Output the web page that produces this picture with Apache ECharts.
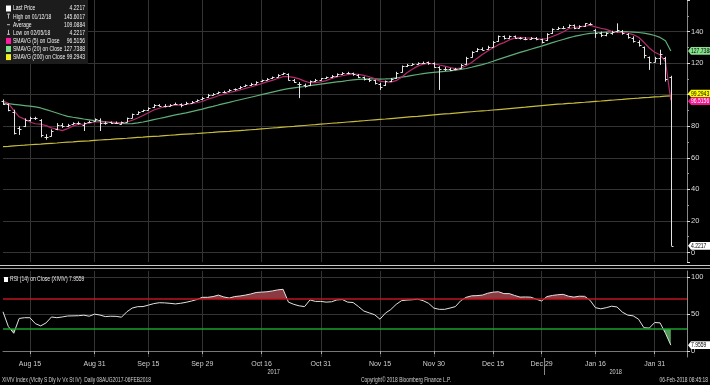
<!DOCTYPE html>
<html><head><meta charset="utf-8">
<script src="https://cdn.jsdelivr.net/npm/echarts@6/dist/echarts.min.js"></script>
<style>html,body{margin:0;padding:0;background:#000;}#c{width:710px;height:385px;}</style>
</head><body><div id="c"></div>
<script>
const dates = ['2017-08-08','2017-08-09','2017-08-10','2017-08-11','2017-08-14','2017-08-15','2017-08-16','2017-08-17','2017-08-18','2017-08-21','2017-08-22','2017-08-23','2017-08-24','2017-08-25','2017-08-28','2017-08-29','2017-08-30','2017-08-31',
'2017-09-01','2017-09-05','2017-09-06','2017-09-07','2017-09-08','2017-09-11','2017-09-12','2017-09-13','2017-09-14','2017-09-15','2017-09-18','2017-09-19','2017-09-20','2017-09-21','2017-09-22','2017-09-25','2017-09-26','2017-09-27','2017-09-28','2017-09-29',
'2017-10-02','2017-10-03','2017-10-04','2017-10-05','2017-10-06','2017-10-09','2017-10-10','2017-10-11','2017-10-12','2017-10-13','2017-10-16','2017-10-17','2017-10-18','2017-10-19','2017-10-20','2017-10-23','2017-10-24','2017-10-25','2017-10-26','2017-10-27','2017-10-30','2017-10-31',
'2017-11-01','2017-11-02','2017-11-03','2017-11-06','2017-11-07','2017-11-08','2017-11-09','2017-11-10','2017-11-13','2017-11-14','2017-11-15','2017-11-16','2017-11-17','2017-11-20','2017-11-21','2017-11-22','2017-11-24','2017-11-27','2017-11-28','2017-11-29','2017-11-30',
'2017-12-01','2017-12-04','2017-12-05','2017-12-06','2017-12-07','2017-12-08','2017-12-11','2017-12-12','2017-12-13','2017-12-14','2017-12-15','2017-12-18','2017-12-19','2017-12-20','2017-12-21','2017-12-22','2017-12-26','2017-12-27','2017-12-28','2017-12-29',
'2018-01-02','2018-01-03','2018-01-04','2018-01-05','2018-01-08','2018-01-09','2018-01-10','2018-01-11','2018-01-12','2018-01-16','2018-01-17','2018-01-18','2018-01-19','2018-01-22','2018-01-23','2018-01-24','2018-01-25','2018-01-26','2018-01-29','2018-01-30','2018-01-31',
'2018-02-01','2018-02-02','2018-02-05','2018-02-06','2018-02-07','2018-02-08'];

const labelDates = ['2017-08-15','2017-08-31','2017-09-15','2017-09-29','2017-10-16','2017-10-31','2017-11-15','2017-11-30','2017-12-15','2017-12-29','2018-01-16','2018-01-31'];
const yearLabels = ['2017','2018'];

const open = [96,94,89,79,80,84,85.5,84,73,74, 78,81,80,81.5,82,81,82.5,83.5,84,82, 82.5,82,81.5,83,85.5,88,89.5,90.5,92,93.5, 93,93,94,94,94,95,96,97,98.5,100, 101,101.5,102.5,103.5,104,105.5,106,107,108.5,109.5, 110.5,111.5,113,113,109.5,107,106,106,108.5,109.5, 110.5,111,112,113,114,113.5,112.5,111,110,109, 107,106,108.5,110.5,114.5,118,119,119.5,120,120.5, 120,117.5,116,116.5,116,117,119.5,124,127.5,129, 129,130.5,134,137,136,137,136,135.5,135,136, 135,134.5,139,141.5,142.5,143,144,142.5,143.5,145, 141,139,138,139,140.5,140.5,138.5,136,133.5,130, 124,121,123,123,111.5];
const high = [97,94.5,90.5,80,85,86,86,84.5,75,78, 82,82,81.5,82.5,83,82.5,83.5,85,85,83, 83,83,83,85.5,88,89.5,90.5,92,94,94, 94,94,95,94.5,95.5,96,97,98.5,100.5,101, 102,102.5,103.5,104,105.5,106.5,107.5,108.5,109.5,110.5, 111.5,113,114,113.5,110,108,107,109,110,110.5, 111.5,112.5,113.5,114.3,114.5,114,113,111.5,110.5,109.5, 107.5,109,110.5,114.5,118.5,119.5,120,120.5,121,121, 120.5,118,117.5,117,117,119.5,124,127.5,129.5,130, 131,134,137.5,137.5,137.5,137.5,136.5,136.5,136.5,136.5, 135.5,139,142,143,143.5,144.5,144.5,144,145.3,145.6017, 141.5,140,139.5,140.5,145.2,141,139,137,134.5,130.5, 124.2,124,128.5,124,112];
const low = [93.5,89.5,74.8,74.5,79.5,83,84,73,71.5,73.5, 77.5,79,79.5,81,81,77,82,83,77,81, 81.5,81.5,81,82.5,85,87.5,89,90,91.5,92.5, 92,92.5,93.5,92,93.5,94.5,95.5,96.5,98,99.5, 100.5,101,102,102.5,103.5,105,105.5,106.5,108,109, 110,111,112.5,109,107.5,97.8,104.5,105.5,108,109, 110,110.5,111.5,112.5,113,112,110.5,109,108,106.5, 103,105.5,108,110,114,117.5,118.5,119,119.5,119, 117,103,115,115,115.5,116.5,119,123.5,127,128, 128.5,130,133.5,135,135.5,135.5,135,134.5,134.8,134.5, 132.5,134,138.5,141,141.5,142.5,141.5,142,143,144, 136,136.5,137,138,139.5,138,135.5,133,130.5,123, 115.7,120.5,118.9,108.3,4.2217];
const close = [94,90.5,76,78,84,85,85,74.5,73.5,77, 81,80,81,82,82,82,83,84.5,82,82, 82,82,82.5,85,87.5,89,90,91.5,93.5,93, 93,93.5,94,93.5,95,95.5,96.5,98,100,100.5, 101.5,102,103,103.5,105,106,106.8,108,109.3,110.2, 111.3,112.5,113.6,109.5,108,106.5,105.5,108.5,109.5,110.3, 111,112,113,113.8,113.5,113,111,110,109.3,107.5, 105,108.5,110,114,118,119,119.5,120,120.3,120, 117.8,116,116.5,115.8,116.5,119,123.5,127,129,128.6, 130.3,133.5,136.9,135.8,136.9,136,135.8,135.1,135.8,135.1, 133.6,138.5,141.5,142.5,142.5,144,142.5,143.5,145.2,144.8, 139,137.9,139,140,141,138.9,136.5,134,131.5,125, 121,123,126,110,4.2217];

const sma5 = [96,94.5,90,86,84.5, 82.7,81.6,81.3,80.4,79, 78.2,77.2,78.5,80.2,81.2, 81.4,82,82.7,82.7,82.7, 82.7,82.5,82.1,82.7,83.8, 85.2,86.8,88.6,90.3,91.4, 92.2,92.9,93.4,93.4,93.8, 94.3,94.9,95.7,97.1,98.1, 99.3,100.4,101.4,102.1,103, 104,104.9,105.9,107,108.1, 109.1,110.3,111.4,111.4,111, 110,108.6,107.6,107.6,108.1, 108.9,110.3,111.2,112,112.7, 113.1,112.9,112.3,111.4,110.2, 108.6,108.1,108,108.9,111.1, 113.9,116.1,118.1,119.4,119.8, 119.5,118.8,118.1,117.2,116.5, 116.8,118.3,120.4,123,125.4, 127.7,129.7,131.7,133,134.7, 135.8,136.3,136,135.9,135.6, 135.1,135.6,136.9,138.2,139.7, 141.8,142.6,143,143.5,144, 143,142.1,141.4,140.1,139.4, 139.4,139.1,138.1,136.4,133.2, 129.6,126.9,125.3,121,96.5156];
const sma20 = [94.6,94.3,93.9,93.5,93.1,92.7,92.3,91.6,90.5,89.5, 88.4,87.3,86.3,85.7,85.2,84.6,84.1,83.6,83.2,82.8, 82.4,82.1,81.8,81.6,81.7,82.1,82.7,83.4,84.2,84.9, 85.6,86.4,87.2,87.8,88.5,89.3,90.1,90.9,91.8,92.6, 93.5,94.3,95.1,96,96.8,97.6,98.4,99.2,100,100.8, 101.6,102.4,103.2,103.8,104.3,104.8,105.2,105.7,106.2,106.7, 107.2,107.7,108.1,108.5,109,109.4,109.7,109.9,110,110, 109.9,110,110.2,110.6,111.1,111.6,112.2,112.8,113.3,113.8, 114.2,114.5,114.8,115.1,115.5,116,116.6,117.4,118.3,119.1, 120.1,121.2,122.4,123.5,124.6,125.7,126.8,127.8,128.8,129.8, 130.8,131.9,133,134,135,136,136.9,137.6,138.3,138.8, 139.1,139.4,139.6,139.8,140,140,139.9,139.7,139.4,139, 138.4,137.5,136.3,134.2,127.7388];
const sma200 = [67.1,67.3,67.6,67.8,68,68.3,68.5,68.7,69,69.2, 69.4,69.7,69.9,70.1,70.4,70.6,70.8,71.1,71.3,71.5, 71.7,72,72.2,72.4,72.7,72.9,73.1,73.4,73.6,73.8, 74.1,74.3,74.5,74.8,75,75.2,75.4,75.7,75.9,76.1, 76.4,76.6,76.8,77.1,77.3,77.5,77.8,78,78.3,78.6, 78.9,79.1,79.4,79.7,79.9,80.2,80.5,80.8,81,81.3, 81.6,81.9,82.1,82.4,82.7,83,83.2,83.5,83.8,84.1, 84.4,84.6,84.9,85.2,85.5,85.8,86.1,86.3,86.6,86.9, 87.2,87.5,87.8,88,88.3,88.6,88.9,89.2,89.5,89.8, 90,90.3,90.6,90.9,91.2,91.5,91.8,92.1,92.5,92.8, 93.1,93.4,93.7,94,94.2,94.5,94.7,95,95.2,95.5, 95.8,96,96.3,96.5,96.8,97,97.3,97.6,97.8,98.1, 98.3,98.6,98.8,99.1,99.2943];
const rsi = [53,33,24,44,45,45,37,34,38,46, 45,46,47.3,47.5,47.7,48.4,47,49.8,48.6,46.5, 47,46.8,45.7,53,58,59.9,60,62,64,65.2, 65,64.4,63.6,64.5,65.8,67.5,69.5,72.5,72.5,73.5, 75.5,73,71.5,73.5,74.3,75.5,77,79,79.5,80, 81.1,82.5,83.3,66,63,61,60,69,67,67, 66,66.5,69,69.5,66,65.5,60,54,51.5,49, 43,51.2,56,63,68,68.8,69.2,70,68,64.5, 58,56.3,56.3,58,60,68,72.5,74.5,74.8,75.5, 78,79.5,80,77.5,77.5,75,72.8,73,72.7,70, 67.5,73.5,75,76,76.5,74,72.8,74,73.8,68.5, 58.5,57,58.5,60.5,59.5,52.5,48.5,47.5,43,31.5, 31,38.5,38,24,7.9559];

const legendLabels = ['Last Price','High on 01/12/18','Average','Low on 02/05/18','SMAVG (5) on Close','SMAVG (20) on Close','SMAVG (200) on Close'];
const legendValues = ['4.2217','145.6017','109.0884','4.2217','96.5156','127.7388','99.2943'];
const rsiLegend = 'RSI (14) on Close (XIVIV) 7.9559';
const rsiLast = 7.9559;
const footerLeft = 'XIVIV Index (Vlcity S Dly Iv Vx St IV)  Daily 08AUG2017-06FEB2018';
const footerMid = 'Copyright\u00A9 2018 Bloomberg Finance L.P.';
const footerRight = '06-Feb-2018 08:45:18';

const months = ['Jan','Feb','Mar','Apr','May','Jun','Jul','Aug','Sep','Oct','Nov','Dec'];
const FONT = '"Liberation Sans Narrow","Liberation Sans",Arial,sans-serif';
const SQ = 0.7; // horizontal squeeze to mimic the narrow terminal font
const labelSet = new Set(labelDates.map(d => dates.indexOf(d)));
const showIdx = (i) => labelSet.has(i);
const fmtDate = v => months[+v.slice(5,7)-1] + ' ' + (+v.slice(8));

const chart = echarts.init(document.getElementById('c'), null, {renderer: 'canvas'});
const ohlcData = close.map((c, i) => [i, open[i], high[i], low[i], c]);

const gridCol = '#343434';
chart.setOption({
  backgroundColor: '#000',
  animation: false,
  grid: [
    {left: 3, right: 23, top: 0, height: 262},
    {left: 3, right: 23, top: 271, height: 86}
  ],
  xAxis: [
    {type: 'category', gridIndex: 0, data: dates, boundaryGap: false,
     axisLine: {show: false}, axisTick: {show: false}, axisLabel: {show: false},
     splitLine: {show: true, interval: showIdx, lineStyle: {color: gridCol, width: 1}}},
    {type: 'category', gridIndex: 1, data: dates, boundaryGap: false,
     axisLine: {show: true, lineStyle: {color: '#777'}},
     axisTick: {show: true, interval: showIdx, length: 3, lineStyle: {color: '#aaa'}},
     axisLabel: {show: true, interval: showIdx, formatter: fmtDate, color: '#cfcfcf', fontSize: 7, fontFamily: FONT, margin: 4},
     splitLine: {show: true, interval: showIdx, lineStyle: {color: gridCol, width: 1}}}
  ],
  yAxis: [
    {type: 'value', gridIndex: 0, position: 'right', min: -6, max: 160, splitNumber: 8,
     axisLine: {show: true, lineStyle: {color: '#8a8a8a'}},
     axisTick: {show: true, length: 3, lineStyle: {color: '#ddd'}},
     minorTick: {show: true, splitNumber: 2, length: 2, lineStyle: {color: '#999'}},
     axisLabel: {color: '#dcdcdc', fontSize: 7.5, fontFamily: FONT, margin: 4, showMinLabel: false, showMaxLabel: false},
     splitLine: {show: true, showMinLine: false, showMaxLine: false, lineStyle: {color: gridCol}}},
    {type: 'value', gridIndex: 1, position: 'right', min: -8, max: 108, splitNumber: 2,
     axisLine: {show: true, lineStyle: {color: '#8a8a8a'}},
     axisTick: {show: true, length: 3, lineStyle: {color: '#ddd'}},
     axisLabel: {color: '#dcdcdc', fontSize: 7.5, fontFamily: FONT, margin: 4, showMinLabel: false, showMaxLabel: false},
     splitLine: {show: true, showMinLine: false, showMaxLine: false, lineStyle: {color: gridCol}}}
  ],
  visualMap: [{
    type: 'piecewise', show: false, seriesIndex: 4, dimension: 1,
    pieces: [
      {gt: 70, color: '#8a3a40'},
      {gte: 30, lte: 70, color: 'rgba(0,0,0,0)'},
      {lt: 30, color: '#4e9a52'}
    ]
  }],
  series: [
    {name: 'SMAVG (200)', type: 'line', xAxisIndex: 0, yAxisIndex: 0, data: sma200, symbol: 'none', silent: true, z: 2,
     lineStyle: {color: '#c8bd3a', width: 1.2}},
    {name: 'SMAVG (20)', type: 'line', xAxisIndex: 0, yAxisIndex: 0, data: sma20, symbol: 'none', silent: true, z: 2,
     lineStyle: {color: '#5fae78', width: 1.2}},
    {name: 'SMAVG (5)', type: 'line', xAxisIndex: 0, yAxisIndex: 0, data: sma5, symbol: 'none', silent: true, z: 2,
     lineStyle: {color: '#b52a6c', width: 1.2}},
    {name: 'Price', type: 'custom', xAxisIndex: 0, yAxisIndex: 0, data: ohlcData, z: 3, silent: true,
     encode: {x: 0, y: [1, 2, 3, 4]},
     renderItem: function (params, api) {
       const i = api.value(0);
       const o = api.coord([i, api.value(1)]);
       const h = api.coord([i, api.value(2)]);
       const l = api.coord([i, api.value(3)]);
       const c = api.coord([i, api.value(4)]);
       const x = Math.round(o[0]) + 0.5;
       const st = {stroke: '#e4e4e4', lineWidth: 1};
       return {type: 'group', children: [
         {type: 'line', shape: {x1: x, y1: h[1], x2: x, y2: l[1]}, style: st},
         {type: 'line', shape: {x1: x - 2, y1: Math.round(o[1]) + 0.5, x2: x, y2: Math.round(o[1]) + 0.5}, style: st},
         {type: 'line', shape: {x1: x, y1: Math.round(c[1]) + 0.5, x2: x + 2, y2: Math.round(c[1]) + 0.5}, style: st}
       ]};
     }},
    {name: 'RSI fill', type: 'line', xAxisIndex: 1, yAxisIndex: 1, data: rsi, symbol: 'none', silent: true, z: 1,
     lineStyle: {width: 0, opacity: 0}, areaStyle: {origin: 70, opacity: 1}},
    {name: 'RSI', type: 'line', xAxisIndex: 1, yAxisIndex: 1, data: rsi, symbol: 'none', silent: true, z: 3,
     lineStyle: {color: '#e2e2e2', width: 1},
     markLine: {silent: true, symbol: 'none', label: {show: false}, animation: false,
       data: [
         {yAxis: 70, lineStyle: {color: '#c0141e', width: 1.6, type: 'solid'}},
         {yAxis: 30, lineStyle: {color: '#18a02c', width: 1.6, type: 'solid'}}
       ]}}
  ]
});

// ---- overlay graphics (positions from the library's scales) ----
const g = [];
function txt(x, y, text, size, color, align, z) {
  return {type: 'text', x: x, y: y, scaleX: SQ, z: z || 11,
          style: {text: text, fill: color, font: size + 'px ' + FONT, textVerticalAlign: 'middle', textAlign: align || 'left'}};
}
// separator between panels
g.push({type: 'line', shape: {x1: 0, y1: 265.5, x2: 710, y2: 265.5}, style: {stroke: '#c8c8c8', lineWidth: 1}});
g.push({type: 'line', shape: {x1: 0, y1: 268.5, x2: 710, y2: 268.5}, style: {stroke: '#9a9a9a', lineWidth: 1}});

// legend box
g.push({type: 'rect', shape: {x: 0, y: 0, width: 88, height: 64}, style: {fill: '#1c1c1c'}, z: 10});
const iconColors = ['#ffffff', null, null, null, '#ff1aa0', '#7fe08a', '#f2f01e'];
legendLabels.forEach((lab, k) => {
  const yc = 8.5 + k * 8.1;
  if (iconColors[k]) {
    g.push({type: 'rect', shape: {x: 6, y: yc - 3, width: 5, height: 6}, style: {fill: iconColors[k]}, z: 11});
  } else if (k === 2) {
    g.push({type: 'line', shape: {x1: 7, y1: yc, x2: 10, y2: yc}, style: {stroke: '#bbb', lineWidth: 1}, z: 11});
  } else {
    g.push({type: 'line', shape: {x1: 8.5, y1: yc - 3, x2: 8.5, y2: yc + 2}, style: {stroke: '#bbb', lineWidth: 1}, z: 11});
    g.push({type: 'line', shape: {x1: 7, y1: k === 1 ? yc - 2.5 : yc + 1.5, x2: 10, y2: k === 1 ? yc - 2.5 : yc + 1.5}, style: {stroke: '#bbb', lineWidth: 1}, z: 11});
  }
  g.push(txt(13, yc, lab, 7.2, '#f0f0f0', 'left'));
  g.push(txt(85, yc, legendValues[k], 7.2, '#f0f0f0', 'right'));
});

// RSI legend
g.push({type: 'rect', shape: {x: 4, y: 277, width: 4, height: 5}, style: {fill: '#fff'}, z: 11});
g.push(txt(10, 279.5, rsiLegend, 7.2, '#e8e8e8', 'left'));

// value tags on right axis
function tag(yc, text, bg, fg) {
  const x0 = 688, h = 7.6;
  g.push({type: 'polygon', shape: {points: [[x0, yc], [x0 + 3, yc - h / 2], [710, yc - h / 2], [710, yc + h / 2], [x0 + 3, yc + h / 2]]},
          style: {fill: bg}, z: 12});
  g.push(txt(691, yc + 0.3, text, 7.2, fg, 'left', 13));
}
const tags = [
  {v: +legendValues[5], t: legendValues[5], bg: '#86e38e', fg: '#000'},
  {v: +legendValues[6], t: legendValues[6], bg: '#ffff00', fg: '#000'},
  {v: +legendValues[4], t: legendValues[4], bg: '#f0168e', fg: '#fff'},
  {v: +legendValues[0], t: legendValues[0], bg: '#ffffff', fg: '#000'}
].map(o => Object.assign(o, {y: chart.convertToPixel({yAxisIndex: 0}, o.v)}));
tags.sort((a, b) => a.y - b.y);
for (let k = 1; k < tags.length; k++) {
  const gap = tags[k].y - tags[k - 1].y;
  if (gap < 7.6) { const d = (7.6 - gap); tags[k - 1].y -= d * 0.7; tags[k].y += d * 0.3; }
}
tags.forEach(o => tag(o.y, o.t, o.bg, o.fg));
tag(chart.convertToPixel({yAxisIndex: 1}, rsiLast), String(rsiLast), '#ffffff', '#000');

// year labels and year separator
const xStart = chart.convertToPixel({xAxisIndex: 1}, 0);
const xEnd = chart.convertToPixel({xAxisIndex: 1}, dates.length - 1);
const iJan = dates.findIndex(d => d.startsWith('2018'));
const xBound = (chart.convertToPixel({xAxisIndex: 1}, iJan - 1) + chart.convertToPixel({xAxisIndex: 1}, iJan)) / 2;
g.push({type: 'line', shape: {x1: Math.round(xBound) + 0.5, y1: 358, x2: Math.round(xBound) + 0.5, y2: 375}, style: {stroke: '#888', lineWidth: 1}});
g.push(txt((xStart + xBound) / 2, 372, yearLabels[0], 8, '#cfcfcf', 'center'));
g.push(txt((xBound + xEnd) / 2, 372, yearLabels[1], 8, '#cfcfcf', 'center'));

// footer
g.push(txt(2, 380.5, footerLeft, 7, '#cfcfcf', 'left'));
g.push(txt(406, 380.5, footerMid, 7, '#cfcfcf', 'center'));
g.push(txt(708, 380.5, footerRight, 7, '#cfcfcf', 'right'));

chart.setOption({graphic: g});
</script>
</body></html>
